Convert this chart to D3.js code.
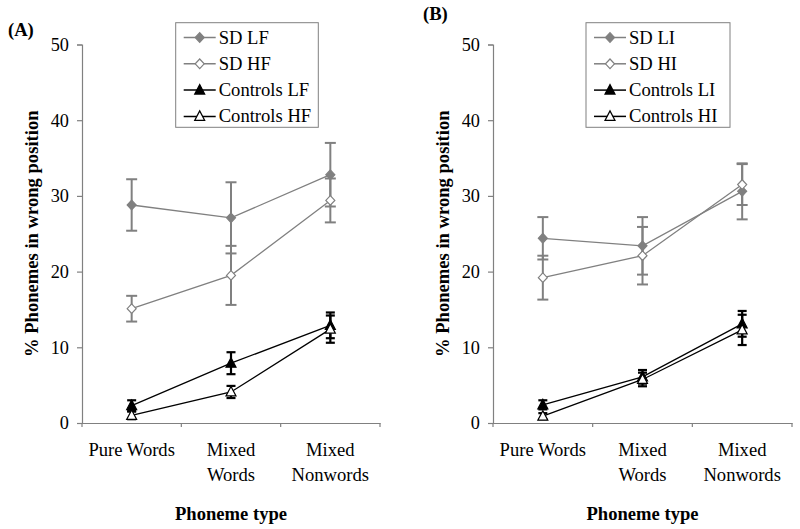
<!DOCTYPE html>
<html><head><meta charset="utf-8">
<script src="https://cdn.jsdelivr.net/npm/d3@7"></script>
<style>body{margin:0;background:#fff}svg{display:block;font-family:"Liberation Serif","Times New Roman",serif}</style>
</head><body>
<svg id="c" width="800" height="529"></svg>
<script>
const categories = ["Pure Words", "Mixed Words", "Mixed Nonwords"];
const categoryLines = [["Pure Words"], ["Mixed", "Words"], ["Mixed", "Nonwords"]];
const yTicks = [0, 10, 20, 30, 40, 50];

// Panel A
const sdLF = [28.8, 27.1, 32.8];      const sdLFErr = [3.4, 4.7, 4.2];
const sdHF = [15.1, 19.5, 29.4];      const sdHFErr = [1.7, 3.9, 2.9];
const ctrlLF = [2.3, 7.9, 12.9];      const ctrlLFErr = [0.7, 1.45, 1.7];
const ctrlHF = [1.0, 4.1, 12.4];      const ctrlHFErr = [0.5, 0.8, 1.8];
// Panel B
const sdLI = [24.4, 23.4, 30.6];      const sdLIErr = [2.8, 3.8, 3.7];
const sdHI = [19.2, 22.1, 31.5];      const sdHIErr = [2.9, 3.8, 2.7];
const ctrlLI = [2.4, 6.1, 13.1];      const ctrlLIErr = [0.6, 0.9, 1.7];
const ctrlHI = [0.9, 5.75, 12.3];     const ctrlHIErr = [0.4, 0.9, 2.0];

const panelLabels = ["(A)", "(B)"];
const legendA = ["SD LF", "SD HF", "Controls LF", "Controls HF"];
const legendB = ["SD LI", "SD HI", "Controls LI", "Controls HI"];
const yTitle = "% Phonemes in wrong position";
const xTitle = "Phoneme type";

const GRAY = "#808080";
const FS = 18.6;
const styles = [
  {color: GRAY, fill: GRAY, shape: "diamond", lw: 1.3, ew: 2},
  {color: GRAY, fill: "#fff", shape: "diamond", lw: 1.3, ew: 2},
  {color: "#000", fill: "#000", shape: "triangle", lw: 1.3, ew: 2.2},
  {color: "#000", fill: "#fff", shape: "triangle", lw: 1.3, ew: 2.2}
];

const svg = d3.select("#c");

function marker(g, shape, x, y, st) {
  let p;
  if (shape === "diamond") {
    p = `M${x},${y-4.8}L${x+4.5},${y}L${x},${y+4.8}L${x-4.5},${y}Z`;
  } else {
    p = `M${x},${y-5.5}L${x+5},${y+4}L${x-5},${y+4}Z`;
  }
  g.append("path").attr("d", p).attr("fill", st.fill).attr("stroke", st.color).attr("stroke-width", 1.2);
}

function panel(cfg) {
  const g = svg.append("g");
  const x = d3.scaleBand().domain(categories).range([cfg.x0, cfg.x1]).padding(0);
  const y = d3.scaleLinear().domain([0, 50]).range([423, 44.5]);

  // y axis
  const ya = g.append("g").attr("transform", `translate(${cfg.x0},0)`)
    .call(d3.axisLeft(y).tickValues(yTicks).tickSize(5).tickPadding(8));
  ya.select(".domain").attr("stroke", GRAY).attr("stroke-width", 1.2);
  ya.selectAll(".tick line").attr("stroke", GRAY).attr("stroke-width", 1.2);
  ya.selectAll(".tick text").attr("font-size", 18.3).attr("font-family", "Liberation Serif").attr("fill", "#000");

  // x axis
  const xa = g.append("g").attr("transform", `translate(0,${y(0)})`)
    .call(d3.axisBottom(x).tickValues([]).tickSizeOuter(0));
  xa.select(".domain").attr("stroke", GRAY).attr("stroke-width", 1.2);
  const bounds = [cfg.x0, ...categories.map(c => x(c) + x.bandwidth())];
  g.selectAll("line.xt").data(bounds).enter().append("line")
    .attr("x1", d => d).attr("x2", d => d).attr("y1", y(0)).attr("y2", y(0) + 4)
    .attr("stroke", GRAY).attr("stroke-width", 1.2);

  categories.forEach((c, i) => {
    const cx = x(c) + x.bandwidth() / 2;
    categoryLines[i].forEach((ln, j) => {
      g.append("text").attr("x", cx).attr("y", 456 + j * 25).attr("text-anchor", "middle")
        .attr("font-size", FS).text(ln);
    });
  });

  // titles
  g.append("text").attr("x", (cfg.x0 + cfg.x1) / 2).attr("y", 520).attr("text-anchor", "middle")
    .attr("font-size", FS).attr("font-weight", "bold").text(xTitle);
  g.append("text").attr("transform", `translate(${cfg.ytx},${(y(0) + y(50)) / 2}) rotate(-90)`)
    .attr("text-anchor", "middle").attr("font-size", FS).attr("font-weight", "bold").text(yTitle);
  g.append("text").attr("x", cfg.lx).attr("y", cfg.ly).attr("font-size", FS).attr("font-weight", "bold")
    .text(cfg.label);

  const cxs = categories.map(c => x(c) + x.bandwidth() / 2);

  // lines
  cfg.series.forEach((s, k) => {
    const st = styles[k];
    const line = d3.line().x((d, i) => cxs[i]).y(d => y(d));
    g.append("path").attr("d", line(s.v)).attr("fill", "none").attr("stroke", st.color).attr("stroke-width", st.lw);
  });
  // error bars
  cfg.series.forEach((s, k) => {
    const st = styles[k];
    s.v.forEach((v, i) => {
      const e = s.e[i], cx = cxs[i], hw = k < 2 ? 5.5 : 4.5;
      g.append("line").attr("x1", cx).attr("x2", cx).attr("y1", y(v - e)).attr("y2", y(v + e))
        .attr("stroke", st.color).attr("stroke-width", st.ew);
      [v - e, v + e].forEach(t => {
        g.append("line").attr("x1", cx - hw).attr("x2", cx + hw).attr("y1", y(t)).attr("y2", y(t))
          .attr("stroke", st.color).attr("stroke-width", st.ew);
      });
    });
  });
  // markers
  cfg.series.forEach((s, k) => {
    const st = styles[k];
    s.v.forEach((v, i) => marker(g, st.shape, cxs[i], y(v), st));
  });

  // legend
  const lg = g.append("g");
  lg.append("rect").attr("x", cfg.bx).attr("y", 22.7).attr("width", cfg.bw).attr("height", 104.6)
    .attr("fill", "#fff").attr("stroke", GRAY).attr("stroke-width", 1);
  cfg.legend.forEach((name, k) => {
    const st = styles[k];
    const ly = 37.5 + k * 26.3;
    const lx0 = cfg.bx + 8, lx1 = cfg.bx + 40;
    lg.append("line").attr("x1", lx0).attr("x2", lx1).attr("y1", ly).attr("y2", ly)
      .attr("stroke", st.color).attr("stroke-width", 1.5);
    marker(lg, st.shape, (lx0 + lx1) / 2, ly, st);
    lg.append("text").attr("x", lx1 + 3).attr("y", ly + 6).attr("font-size", FS).text(name);
  });
}

panel({x0: 82, x1: 380, ytx: 38, lx: 8, ly: 36, label: panelLabels[0], bx: 175.7, bw: 142.6, legend: legendA,
  series: [{v: sdLF, e: sdLFErr}, {v: sdHF, e: sdHFErr}, {v: ctrlLF, e: ctrlLFErr}, {v: ctrlHF, e: ctrlHFErr}]});
panel({x0: 493, x1: 792, ytx: 449, lx: 423, ly: 20, label: panelLabels[1], bx: 586, bw: 144, legend: legendB,
  series: [{v: sdLI, e: sdLIErr}, {v: sdHI, e: sdHIErr}, {v: ctrlLI, e: ctrlLIErr}, {v: ctrlHI, e: ctrlHIErr}]});
</script>
</body></html>
